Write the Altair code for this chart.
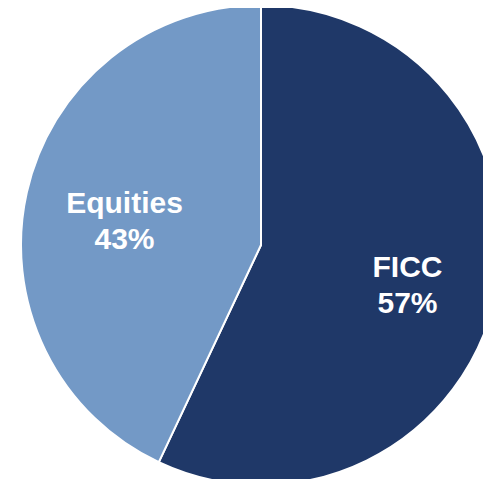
import altair as alt
import pandas as pd

categories = ["FICC", "Equities"]
values = [57, 43]
colors = ["#1F3868", "#7399C6"]

df = pd.DataFrame({"category": categories, "value": values})

base = alt.Chart(df).encode(
    theta=alt.Theta("value:Q", stack=True),
    order=alt.Order("category:N", sort="descending"),
)

pie = base.mark_arc(
    radius=240, stroke="white", strokeWidth=2,
    x=253, y=237,
).encode(
    color=alt.Color("category:N", scale=alt.Scale(domain=categories, range=colors), legend=None)
)

labels = base.transform_calculate(
    label="[datum.category, datum.value + '%']"
).mark_text(
    radius=145, x=253, y=237, dx=5, dy=-9,
    font="Liberation Sans", fontSize=30, fontWeight="bold",
    color="white", lineHeight=36, align="center", baseline="middle",
).encode(text="label:N")

chart = (pie + labels).properties(
    width=475, height=471, padding=0,
    autosize=alt.AutoSizeParams(type="none"),
).configure_view(stroke=None)

chart.save("out.html", embed_options={"renderer": "svg", "actions": False})
